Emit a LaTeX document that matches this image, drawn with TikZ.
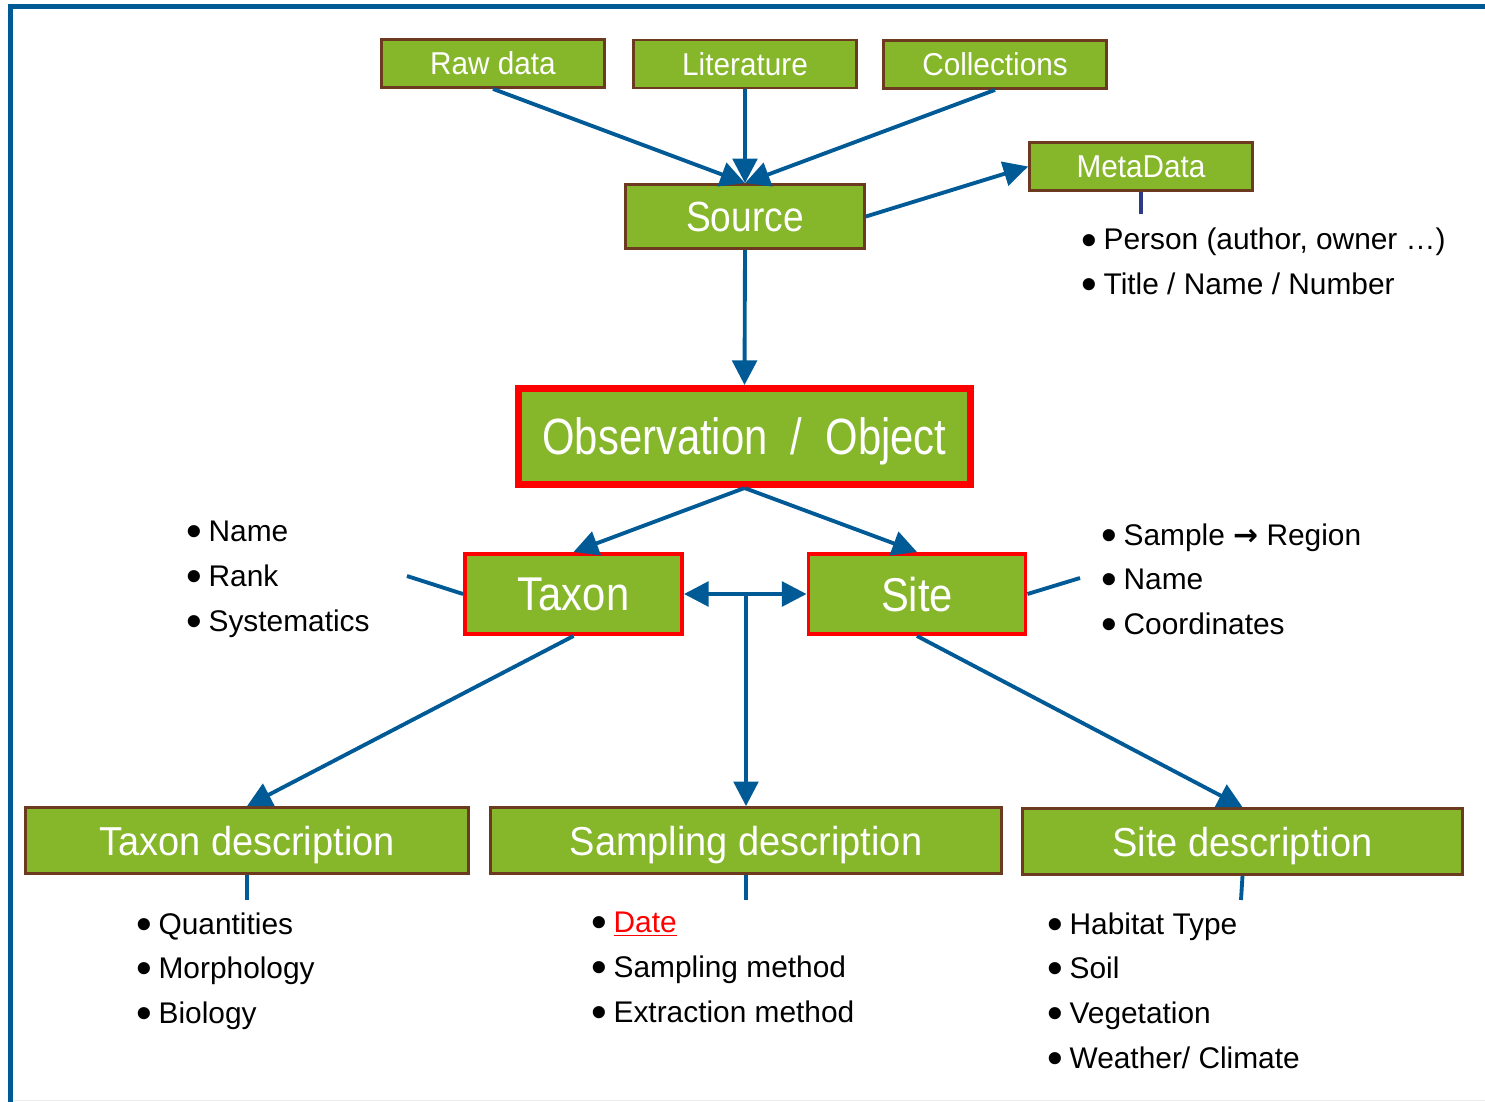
\documentclass[tikz,border=0pt]{standalone}
\usepackage{fontspec}
\usepackage{graphicx}
\setmainfont{Liberation Sans}
\newfontfamily\obsfont[FakeStretch=0.82]{Liberation Sans}
\newfontfamily\midfont[FakeStretch=0.88]{Liberation Sans}
\newfontfamily\boxfont[FakeStretch=0.94]{Liberation Sans}
\newfontfamily\arrowfont{DejaVu Sans}
\usetikzlibrary{arrows.meta}
\definecolor{boxgreen}{RGB}{134,182,42}
\definecolor{boxbrown}{RGB}{107,58,31}
\definecolor{lineblue}{RGB}{0,90,150}
\definecolor{stubnavy}{RGB}{46,58,135}
\tikzset{
  box/.style={draw=boxbrown, line width=1.6pt, fill=boxgreen, text=white, inner sep=0pt, text depth=0pt},
  keybox/.style={box, draw=red},
  link/.style={draw=lineblue, line width=2.2pt},
  flow/.style={link, -{Triangle[width=14pt,length=14pt]}},
  twoway/.style={link, {Triangle[width=14pt,length=14pt]}-{Triangle[width=14pt,length=14pt]}},
  items/.style={align=left, anchor=north west, inner sep=0pt, font=\fontsize{17}{25.5}\selectfont},
}
\newcommand\itm{\raisebox{-0.17em}{\scalebox{1.5}{\textbullet}}\hspace{0.22em}}

\begin{document}
\begin{tikzpicture}[x=0.02cm,y=-0.02cm]
\useasboundingbox (0,0) rectangle (1485,1102);
% frame
\draw[lineblue, line width=2.8pt] (10.5,1102) -- (10.5,6.5) -- (1485,6.5);
\draw[gray!15, line width=0.6pt] (13,1100.5) -- (1485,1100.5);

% sources
\node[box, minimum width=4.46cm, minimum height=0.96cm, font=\boxfont\fontsize{18}{20}\selectfont] (raw) at (493,63.5) {Raw data};
\node[box, minimum width=4.46cm, minimum height=0.96cm, font=\boxfont\fontsize{18}{20}\selectfont] (lit) at (745,64) {Literature};
\node[box, minimum width=4.46cm, minimum height=0.96cm, font=\boxfont\fontsize{18}{20}\selectfont] (coll) at (995,64.5) {Collections};
\node[box, minimum width=4.78cm, minimum height=1.28cm, font=\midfont\fontsize{24}{26}\selectfont] (source) at (745,216.5) {Source};
\node[box, minimum width=4.46cm, minimum height=0.96cm, font=\boxfont\fontsize{18}{20}\selectfont] (meta) at (1141,166.5) {MetaData};

% main objects
\node[keybox, line width=4pt, minimum width=9.04cm, minimum height=1.92cm, font=\obsfont\fontsize{29}{31}\selectfont] (obs) at (744.5,436.5) {Observation\ \ /\ \ Object};
\node[keybox, line width=2pt, minimum width=4.35cm, minimum height=1.61cm, font=\midfont\fontsize{27}{29}\selectfont] (taxon) at (573.5,594) {Taxon};
\node[keybox, line width=2pt, minimum width=4.35cm, minimum height=1.61cm, font=\midfont\fontsize{27}{29}\selectfont] (site) at (917,594) {Site};

% descriptions
\node[box, minimum width=8.86cm, minimum height=1.32cm, font=\boxfont\fontsize{23}{25}\selectfont] (taxdesc) at (247,840.5) {Taxon description};
\node[box, minimum width=10.22cm, minimum height=1.32cm, font=\boxfont\fontsize{23}{25}\selectfont] (sampdesc) at (746,840.5) {Sampling description};
\node[box, minimum width=8.8cm, minimum height=1.32cm, font=\boxfont\fontsize{23}{25}\selectfont] (sitedesc) at (1242.5,841.5) {Site description};

% lists
\node[items] (metalist) at (1081,228) {\itm Person (author, owner …)\\ \itm Title / Name / Number};
\node[items] (taxlist) at (186,521) {\itm Name\\ \itm Rank\\ \itm Systematics};
\node[items] (sitelist) at (1101,523) {\itm Sample {\arrowfont\bfseries →} Region\\ \itm Name\\ \itm Coordinates};
\node[items] (taxdesclist) at (136,912) {\itm Quantities\\ \itm Morphology\\ \itm Biology};
\node[items] (sampdesclist) at (591,912) {\itm \textcolor{red}{\underline{Date}}\\ \itm Sampling method\\ \itm Extraction method};
\node[items] (sitedesclist) at (1047,912) {\itm Habitat Type\\ \itm Soil\\ \itm Vegetation\\ \itm Weather/ Climate};

% free ends
\coordinate (taxend) at (407,576);
\coordinate (siteend) at (1080,578);
\coordinate (metaend) at (1141,214);
\coordinate (taxdescend) at (247,900);
\coordinate (sampdescend) at (746,900);
\coordinate (sitedescend) at (1241,900);

% connectors
\draw[flow] (raw.south) -- (source.north);
\draw[flow] (lit.south) -- (source.north);
\draw[flow] (coll.south) -- (source.north);
\draw[flow] (source.east) -- (meta.west);
\draw[stubnavy, line width=1.8pt] (meta.south) -- (metaend);
\draw[flow] (source.south) -- (obs.north);
\draw[flow] (obs.south) -- (taxon.north);
\draw[flow] (obs.south) -- (site.north);
\draw[twoway] (taxon.east) -- (site.west);
\draw[flow] (sampdesc.north |- taxon.east) -- (sampdesc.north);
\draw[flow] (taxon.south) -- (taxdesc.north);
\draw[flow] (site.south) -- (sitedesc.north);
\draw[link] (taxon.west) -- (taxend);
\draw[link] (site.east) -- (siteend);
\draw[link] (taxdesc.south) -- (taxdescend);
\draw[link] (sampdesc.south) -- (sampdescend);
\draw[link] (sitedesc.south) -- (sitedescend);
\end{tikzpicture}
\end{document}
